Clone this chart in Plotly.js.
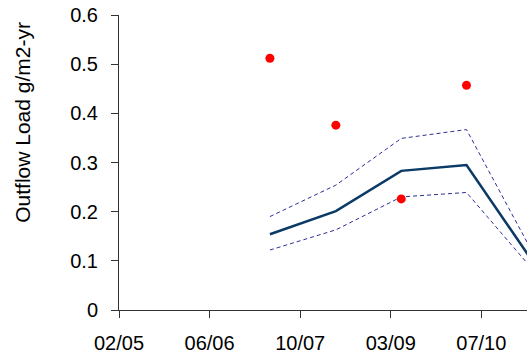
<!DOCTYPE html>
<html>
<head>
<meta charset="utf-8">
<script src="https://cdn.plot.ly/plotly-3.0.1.min.js"></script>
<style>
  html, body { margin: 0; padding: 0; background: #fff; }
  #chart { width: 527px; height: 359px; }
</style>
</head>
<body>
<div id="chart"></div>
<script>
// Annual sample dates (one value per year)
const dates = ['2007-05-15', '2008-05-13', '2009-05-09', '2010-05-04', '2011-04-28'];

// Observed outflow load (g/m2-yr)
const observed = [0.512, 0.376, 0.226, 0.457, 0.356];

// Modelled load with upper / lower bounds
const predicted = [0.154, 0.201, 0.283, 0.295, 0.102];
const upperBound = [0.190, 0.254, 0.349, 0.367, 0.121];
const lowerBound = [0.122, 0.163, 0.230, 0.239, 0.085];

const yTitle = 'Outflow Load g/m2-yr';
const DAY = 86400000;
const FONT = 'Liberation Sans, Arial, sans-serif';

const traces = [
  {
    x: dates, y: upperBound, type: 'scatter', mode: 'lines',
    line: { color: '#2e2e99', width: 1, dash: '4px,3px' },
    hoverinfo: 'skip'
  },
  {
    x: dates, y: lowerBound, type: 'scatter', mode: 'lines',
    line: { color: '#2e2e99', width: 1, dash: '4px,3px' },
    hoverinfo: 'skip'
  },
  {
    x: dates, y: predicted, type: 'scatter', mode: 'lines',
    line: { color: '#0b3a66', width: 2.5 }
  },
  {
    x: dates, y: observed, type: 'scatter', mode: 'markers',
    marker: { color: '#ff0000', size: 9, symbol: 'circle' }
  }
];

const layout = {
  width: 527, height: 359,
  margin: { l: 119, r: 0, t: 15, b: 49, pad: 0 },
  paper_bgcolor: '#ffffff',
  plot_bgcolor: '#ffffff',
  showlegend: false,
  font: { family: FONT, size: 20, color: '#000' },
  xaxis: {
    type: 'date',
    range: ['2005-02-01', '2011-04-03'],
    tick0: '2005-02-01',
    dtick: 500 * DAY,
    tickformat: '%m/%y',
    showgrid: false, zeroline: false,
    showline: true, linecolor: '#333', linewidth: 1,
    ticks: 'outside', ticklen: 7, tickcolor: '#333', tickwidth: 1,
    ticklabelstandoff: 8
  },
  yaxis: {
    range: [0, 0.6],
    tickvals: [0, 0.1, 0.2, 0.3, 0.4, 0.5, 0.6],
    ticktext: ['0', '0.1', '0.2', '0.3', '0.4', '0.5', '0.6'],
    showgrid: false, zeroline: false,
    showline: true, linecolor: '#333', linewidth: 1,
    ticks: 'outside', ticklen: 7, tickcolor: '#333', tickwidth: 1,
    ticklabelstandoff: 9
  },
  annotations: [{
    text: yTitle, textangle: -90,
    xref: 'paper', yref: 'paper',
    x: -0.235, y: 0.635, xanchor: 'center', yanchor: 'middle',
    showarrow: false,
    font: { family: FONT, size: 21, color: '#000' }
  }]
};

Plotly.newPlot('chart', traces, layout, { staticPlot: true, displayModeBar: false });
</script>
</body>
</html>
